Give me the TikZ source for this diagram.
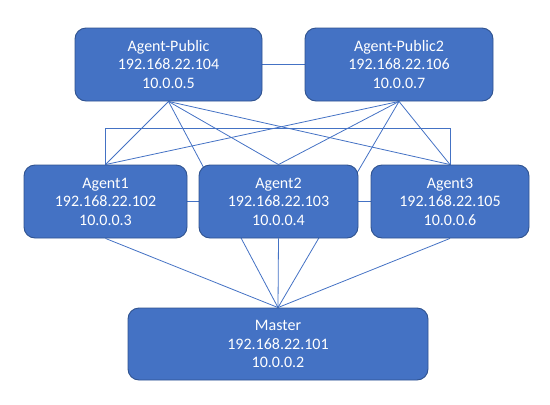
\documentclass[tikz,border=0pt]{standalone}
\usepackage{fontspec}
\setmainfont{Carlito}
\usepackage{tikz}
\usetikzlibrary{backgrounds}
\definecolor{hostblue}{RGB}{68,114,196}
\definecolor{hostedge}{RGB}{47,82,143}

\begin{document}
\begin{tikzpicture}[x=1pt, y=-1pt,
    host/.style={draw=hostedge, fill=hostblue, line width=0.9pt,
      rounded corners=11pt, text=white, align=center, inner sep=0pt,
      minimum height=73pt,
      font=\fontsize{16}{18.5}\selectfont},
    link/.style={draw=hostblue, line width=0.8pt}]

  \useasboundingbox (0,0) rectangle (550,405);

  % Public agents
  \node[host, minimum width=187pt] (pub1) at (168.5,64.5)
    {Agent-Public\\192.168.22.104\\10.0.0.5};
  \node[host, minimum width=188pt] (pub2) at (399,64.5)
    {Agent-Public2\\192.168.22.106\\10.0.0.7};

  % Private agents
  \node[host, minimum width=163pt] (a1) at (105.5,201.5)
    {Agent1\\192.168.22.102\\10.0.0.3};
  \node[host, minimum width=159pt] (a2) at (278.5,201.5)
    {Agent2\\192.168.22.103\\10.0.0.4};
  \node[host, minimum width=158pt] (a3) at (450,201.5)
    {Agent3\\192.168.22.105\\10.0.0.6};

  % Master
  \node[host, minimum width=300pt, minimum height=72pt] (master) at (278,344)
    {Master\\192.168.22.101\\10.0.0.2};

  \coordinate (bus) at (0,128);

  % Links
  \begin{scope}[on background layer]
    \draw[link] (pub1.east) -- (pub2.west);
    \foreach \n in {a1,a2,a3,master} {
      \draw[link] (pub1.south) -- (\n.north);
      \draw[link] (pub2.south) -- (\n.north);
    }
    \draw[link] (a1.north) -- (a1.north |- bus) -| (a3.north);
    \draw[link] (a1.east) -- (a2.west);
    \draw[link] (a2.east) -- (a3.west);
    \foreach \n in {a1,a2,a3}
      \draw[link] (\n.south) -- (master.north);
  \end{scope}

\end{tikzpicture}
\end{document}
